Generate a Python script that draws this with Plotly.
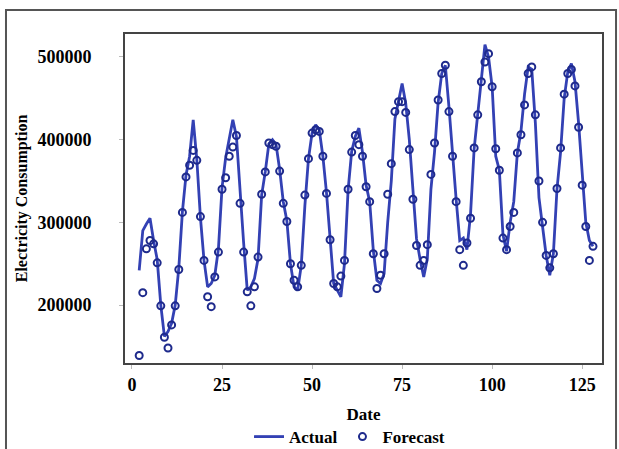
import plotly.graph_objects as go

months = list(range(2, 129))

actual = [
    242000, 290000, 298000, 305000, 278000, 255000, 200000, 162000, 168000, 178000,
    200000, 245000, 313000, 357000, 380000, 424000, 376000, 306000, 254000, 222000,
    226000, 236000, 268000, 342000, 378000, 402000, 424000, 404000, 335000, 275000,
    218000, 222000, 232000, 256000, 333000, 361000, 395000, 400000, 394000, 364000,
    325000, 302000, 250000, 222000, 218000, 248000, 320000, 377000, 408000, 418000,
    412000, 380000, 336000, 279000, 226000, 218000, 210000, 250000, 339000, 386000,
    404000, 414000, 385000, 345000, 325000, 266000, 230000, 226000, 238000, 300000,
    350000, 425000, 446000, 468000, 444000, 400000, 340000, 280000, 255000, 234000,
    256000, 340000, 385000, 445000, 480000, 490000, 440000, 382000, 328000, 278000,
    281000, 267000, 310000, 389000, 432000, 470000, 515000, 500000, 464000, 380000,
    363000, 285000, 265000, 300000, 325000, 384000, 410000, 455000, 488000, 485000,
    420000, 330000, 291000, 260000, 236000, 262000, 340000, 385000, 450000, 482000,
    492000, 470000, 420000, 355000, 300000, 278000, 271000,
]

forecast = [
    139000, 215000, 268000, 278000, 274000, 251000, 199000, 161000, 148000, 176000,
    199000, 243000, 312000, 355000, 369000, 387000, 375000, 307000, 254000, 210000,
    198000, 234000, 264000, 340000, 354000, 380000, 391000, 405000, 323000, 264000,
    216000, 199000, 222000, 258000, 334000, 361000, 396000, 394000, 392000, 362000,
    323000, 301000, 250000, 230000, 222000, 248000, 333000, 377000, 408000, 412000,
    410000, 380000, 335000, 279000, 226000, 222000, 235000, 254000, 340000, 385000,
    405000, 394000, 380000, 343000, 325000, 262000, 220000, 236000, 262000, 334000,
    371000, 434000, 446000, 446000, 433000, 388000, 328000, 272000, 248000, 254000,
    273000, 358000, 396000, 448000, 480000, 490000, 434000, 380000, 325000, 267000,
    248000, 275000, 305000, 390000, 430000, 470000, 494000, 504000, 464000, 389000,
    363000, 281000, 267000, 295000, 312000, 384000, 406000, 442000, 480000, 488000,
    430000, 350000, 300000, 260000, 245000, 262000, 341000, 390000, 455000, 480000,
    485000, 465000, 415000, 345000, 295000, 254000, 271000,
]

x_ticks = [0, 25, 50, 75, 100, 125]
y_ticks = [200000, 300000, 400000, 500000]

FONT = "Liberation Serif"

fig = go.Figure()
fig.add_trace(go.Scatter(
    x=months, y=actual, mode="lines", name="Actual",
    line=dict(color="#3341B4", width=2.8),
))
fig.add_trace(go.Scatter(
    x=months, y=forecast, mode="markers", name="Forecast",
    marker=dict(symbol="circle-open", size=7, color="#1E2A8C", line=dict(width=2)),
))

fig.update_layout(
    width=619, height=449,
    margin=dict(l=125, r=17, t=34, b=86, autoexpand=False),
    paper_bgcolor="white", plot_bgcolor="white",
    font=dict(family=FONT, color="black"),
    showlegend=True,
    legend=dict(orientation="h", x=0.26, xanchor="left", y=-0.225, yanchor="middle",
                font=dict(family=FONT, size=17, color="black", weight="bold"),
                itemwidth=30, tracegroupgap=0, bgcolor="rgba(0,0,0,0)"),
    shapes=[dict(type="rect", xref="paper", yref="paper",
                 x0=-0.2495, x1=1.0294, y0=-0.30, y1=1.0729,
                 line=dict(color="#555555", width=2), layer="below")],
)

fig.update_xaxes(
    range=[-1.94, 130.5], tickvals=x_ticks,
    showgrid=False, zeroline=False,
    showline=True, linecolor="#444444", linewidth=2, mirror=True,
    ticks="outside", ticklen=4, tickcolor="#bbbbbb",
    ticklabelstandoff=0,
    tickfont=dict(family=FONT, size=18, color="black", weight="bold"),
    title=dict(text="Date", standoff=15,
               font=dict(family=FONT, size=17, color="black", weight="bold")),
)
fig.update_yaxes(
    range=[129900, 527800], tickvals=y_ticks, tickformat="d",
    showgrid=False, zeroline=False,
    showline=True, linecolor="#444444", linewidth=2, mirror=True,
    ticks="outside", ticklen=4, tickcolor="#bbbbbb",
    ticklabelstandoff=24,
    tickfont=dict(family=FONT, size=18, color="black", weight="bold"),
    title=dict(text="Electricity Consumption", standoff=6,
               font=dict(family=FONT, size=16, color="black", weight="bold")),
)

fig.write_html("out.html")
